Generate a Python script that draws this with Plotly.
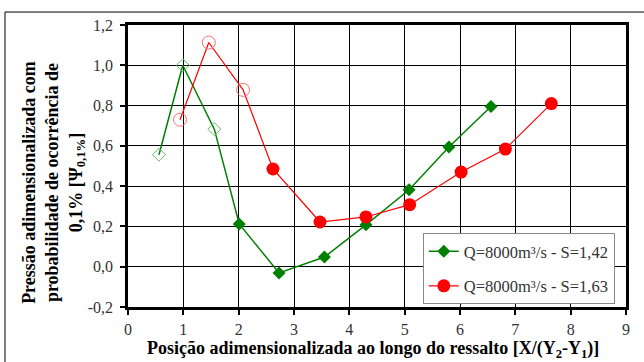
import plotly.graph_objects as go

# Data
x_green = [0.56, 0.99, 1.56, 2.01, 2.73, 3.55, 4.30, 5.08, 5.80, 6.56]
y_green = [0.556, 1.00, 0.683, 0.212, -0.031, 0.048, 0.208, 0.382, 0.594, 0.795]
open_green = 3  # first points drawn hollow

x_red = [0.94, 1.46, 2.08, 2.62, 3.47, 4.30, 5.09, 6.02, 6.82, 7.65]
y_red = [0.73, 1.113, 0.878, 0.485, 0.222, 0.247, 0.308, 0.47, 0.584, 0.81]
open_red = 3

name_green = "Q=8000m³/s - S=1,42"
name_red = "Q=8000m³/s - S=1,63"

x_ticks = [0, 1, 2, 3, 4, 5, 6, 7, 8, 9]
y_ticks = [-0.2, 0.0, 0.2, 0.4, 0.6, 0.8, 1.0, 1.2]
y_ticklabels = ["-0,2", "0,0", "0,2", "0,4", "0,6", "0,8", "1,0", "1,2"]

FONT = "Liberation Serif"
GREEN = "#008000"
RED = "#ff0000"
GREEN_LIGHT = "#66bb66"
RED_LIGHT = "#ff7070"

fig = go.Figure()

# green series
fig.add_trace(go.Scatter(x=x_green, y=y_green, mode="lines",
                         line=dict(color=GREEN, width=1.5), showlegend=False))
fig.add_trace(go.Scatter(x=x_green[:open_green], y=y_green[:open_green], mode="markers",
                         marker=dict(symbol="diamond-open", size=10, color=GREEN_LIGHT,
                                     line=dict(width=1, color=GREEN_LIGHT)),
                         showlegend=False))
fig.add_trace(go.Scatter(x=x_green[open_green:], y=y_green[open_green:], mode="markers",
                         marker=dict(symbol="diamond", size=10, color=GREEN),
                         showlegend=False))
# red series
fig.add_trace(go.Scatter(x=x_red, y=y_red, mode="lines",
                         line=dict(color=RED, width=1.2), showlegend=False))
fig.add_trace(go.Scatter(x=x_red[:open_red], y=y_red[:open_red], mode="markers",
                         marker=dict(symbol="circle-open", size=13, color=RED_LIGHT,
                                     line=dict(width=1, color=RED_LIGHT)),
                         showlegend=False))
fig.add_trace(go.Scatter(x=x_red[open_red:], y=y_red[open_red:], mode="markers",
                         marker=dict(symbol="circle", size=13, color=RED),
                         showlegend=False))

# legend-only entries
fig.add_trace(go.Scatter(x=[None], y=[None], mode="lines+markers", name=name_green,
                         legendgroup="g",
                         line=dict(color=GREEN, width=1.5),
                         marker=dict(symbol="diamond", size=10, color=GREEN)))
fig.add_trace(go.Scatter(x=[None], y=[None], mode="lines+markers", name=name_red,
                         legendgroup="r",
                         line=dict(color=RED, width=1.2),
                         marker=dict(symbol="circle", size=13, color=RED)))

axis_common = dict(showline=True, linecolor="black", linewidth=2.5, mirror=True,
                   ticks="outside", ticklen=5, tickwidth=2, tickcolor="black",
                   showgrid=True, gridcolor="black", gridwidth=1, zeroline=False,
                   tickfont=dict(family=FONT, size=16, color="#333"))

fig.update_xaxes(range=[0, 9], tickvals=x_ticks, ticklabelstandoff=1, **axis_common)
fig.update_yaxes(range=[-0.2, 1.2], tickvals=y_ticks, ticktext=y_ticklabels,
                 ticklabelstandoff=4, **axis_common)

fig.update_layout(
    width=644, height=362,
    margin=dict(l=128, r=18, t=25, b=55),
    paper_bgcolor="white", plot_bgcolor="white",
    font=dict(family=FONT, color="black"),
    legend=dict(x=0.592, y=0.262, xanchor="left", yanchor="top",
                bgcolor="white", bordercolor="#888", borderwidth=1,
                font=dict(family=FONT, size=16.5, color="#333"),
                tracegroupgap=10, itemwidth=30),
    annotations=[
        dict(text="<b>Posição adimensionalizada ao longo do ressalto [X/(Y<sub>2</sub>-Y<sub>1</sub>)]</b>",
             xref="paper", yref="paper", x=0.492, y=-0.152, xanchor="center", yanchor="middle",
             showarrow=False, font=dict(family=FONT, size=18, color="black")),
        dict(text="<b>Pressão adimensionalizada com<br>probabilidade de ocorrência de<br>0,1% [Ψ<sub>0,1%</sub>]</b>",
             xref="paper", yref="paper", x=-0.149, y=0.443, xanchor="center", yanchor="middle",
             textangle=-90, showarrow=False, align="center",
             font=dict(family=FONT, size=18, color="black")),
    ],
    shapes=[dict(type="rect", xref="paper", yref="paper",
                 x0=-0.247, x1=1.08, y0=-0.5, y1=1.046,
                 line=dict(color="black", width=1), layer="below")],
)

fig.write_html("out.html", config={"displayModeBar": False},
               post_script="document.body.style.margin='0';")
